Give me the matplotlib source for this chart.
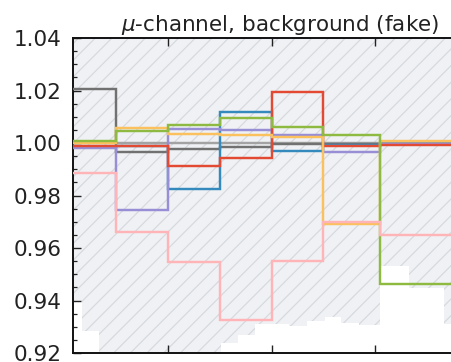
import numpy as np
import matplotlib
matplotlib.use("Agg")
import matplotlib.pyplot as plt

# Coarse binning of the ratio histograms
edges = [0.083, 0.5, 1.0, 1.5, 2.0, 2.5, 3.05, 4.08]

# Relative variations per bin
red = [0.9990, 0.9990, 0.9912, 0.9942, 1.0196, 0.9990, 0.9994]
blue = [0.9985, 0.9988, 0.9823, 1.0117, 0.9969, 0.9992, 0.9996]
purple = [0.9982, 0.9745, 1.0054, 1.0048, 1.0029, 0.9967, 0.9996]
gray_dark = [1.0207, 0.9967, 0.9977, 0.9983, 0.9998, 0.9997, 0.9998]
gray_light = [1.0000, 1.0000, 1.0001, 1.0001, 1.0000, 1.0000, 1.0000]
orange = [1.0000, 1.0056, 1.0036, 1.0031, 1.0021, 0.9690, 1.0007]
green = [1.0007, 1.0045, 1.0068, 1.0094, 1.0060, 1.0030, 0.9461]
pink = [0.9885, 0.9662, 0.9547, 0.9326, 0.9552, 0.9698, 0.9650]

# Statistical uncertainty band (fine binning), lower edge
band_edges = [0.083, 0.170, 0.334, 1.512, 1.676, 1.840, 2.168, 2.342,
              2.515, 2.670, 2.844, 3.046, 3.326, 3.664, 4.08]
band_low = [0.9398, 0.9284, 0.9100, 0.9239, 0.9269, 0.9310, 0.9303,
            0.9322, 0.9337, 0.9315, 0.9307, 0.9531, 0.9448, 0.9310]

yticks = [0.92, 0.94, 0.96, 0.98, 1.00, 1.02, 1.04]
xticks = [1, 2, 3]

fig = plt.figure(figsize=(4.52, 3.62), dpi=100)
ax = fig.add_axes([73 / 452, 9 / 362, 414 / 452, 315 / 362])

low = np.array(band_low)
high = 2.0 - low
plt.rcParams["hatch.linewidth"] = 0.9
ax.stairs(high, band_edges, baseline=low, fill=True,
          facecolor="#eff1f4", edgecolor="#d6d9de", hatch="//",
          linewidth=0, zorder=1)

series = [
    (gray_light, "#a3a3a3"),
    (gray_dark, "#717171"),
    (blue, "#348ABD"),
    (purple, "#988ED5"),
    (red, "#E24A33"),
    (orange, "#FBC15E"),
    (green, "#8EBA42"),
    (pink, "#FFB5B8"),
]
for vals, col in series:
    ax.stairs(vals, edges, baseline=None, color=col, linewidth=1.75, zorder=3)

ax.set_xlim(edges[0], edges[-1])
ax.set_ylim(0.92, 1.04)
ax.set_yticks(yticks)
ax.set_yticklabels([f"{v:.2f}" for v in yticks])
ax.set_xticks(xticks)
ax.set_xticklabels([])
ax.yaxis.set_minor_locator(matplotlib.ticker.MultipleLocator(0.005))

ax.tick_params(axis="both", which="both", direction="in", top=True,
               right=True, color="#222222")
ax.tick_params(axis="both", which="major", length=6, width=1.0)
ax.tick_params(axis="y", which="minor", length=3.2, width=0.9)
ax.tick_params(axis="y", which="major", labelsize=15.5, pad=8,
               labelcolor="#222222")
for sp in ax.spines.values():
    sp.set_linewidth(1.4)
    sp.set_color("#111111")

ax.set_title(r"$\mu$-channel, background (fake)", fontsize=15.5,
             color="#222222", pad=5)

fig.savefig("out.png", dpi=100)
